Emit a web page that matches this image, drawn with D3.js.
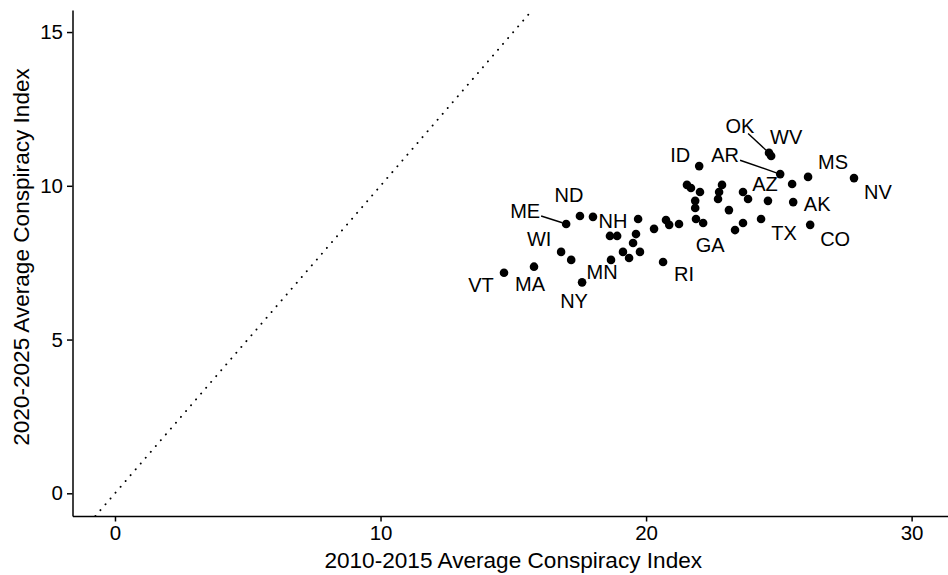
<!DOCTYPE html>
<html>
<head>
<meta charset="utf-8">
<script src="https://cdn.jsdelivr.net/npm/d3@7"></script>
<style>
  body { margin: 0; background: #fff; }
  text { font-family: "Liberation Sans", Arial, Helvetica, sans-serif; fill: #000; }
</style>
</head>
<body>
<svg id="chart" width="948" height="575"></svg>
<script>
// State abbreviations (blank = point drawn without a label)
const states = [
  "VT", "MA", "NY", "WI", "", "ME", "ND", "NH", "MN", "",
  "", "", "", "", "", "", "", "", "", "",
  "", "RI", "", "", "ID", "", "", "", "", "GA",
  "", "", "", "", "AZ", "", "", "", "", "TX",
  "OK", "WV", "AR", "", "MS", "NV", "AK", "CO"
];

// 2010-2015 average conspiracy index per state
const index2010 = [
  14.65, 15.78, 17.59, 16.80, 17.18, 16.99, 17.51, 18.00, 18.68, 18.64,
  18.91, 19.62, 19.51, 19.13, 19.36, 19.77, 19.70, 20.30, 20.75, 20.87,
  21.24, 20.64, 21.54, 21.69, 22.00, 22.03, 21.85, 21.85, 21.88, 22.15,
  22.86, 22.75, 22.71, 23.65, 23.84, 23.12, 24.59, 23.35, 23.65, 24.33,
  24.63, 24.71, 25.05, 25.50, 26.10, 27.83, 25.54, 26.18
];

// 2020-2025 average conspiracy index per state
const index2020 = [
  7.17, 7.37, 6.86, 7.85, 7.59, 8.76, 9.02, 8.99, 7.59, 8.37,
  8.37, 8.43, 8.14, 7.85, 7.65, 7.85, 8.92, 8.60, 8.89, 8.73,
  8.76, 7.52, 10.03, 9.93, 10.64, 9.80, 9.51, 9.28, 8.92, 8.79,
  10.03, 9.80, 9.57, 9.80, 9.57, 9.21, 9.51, 8.56, 8.79, 8.92,
  11.07, 10.97, 10.38, 10.06, 10.29, 10.25, 9.47, 8.73
];

const xTicks = [0, 10, 20, 30];
const yTicks = [0, 5, 10, 15];
const xTitle = "2010-2015 Average Conspiracy Index";
const yTitle = "2020-2025 Average Conspiracy Index";

// Label placement (pixel offsets from each point) and labels with leader lines
const labelNudge = {
  OK: [-29, -27], WV: [15, -19], ID: [-19, -11], AR: [-55, -19],
  MS: [25, -15], NV: [24, 14], AZ: [17, -15], AK: [24, 2],
  TX: [23, 14], CO: [25, 14], GA: [7, 22], RI: [21, 12],
  ND: [-11, -21], ME: [-41, -13], NH: [20, 4], WI: [-22, -13],
  MN: [-9, 12], VT: [-23, 12], MA: [-4, 17], NY: [-8, 18]
};
const leaderLabels = ["OK", "AR", "ME"];

const panel = { left: 72.5, right: 948, top: 10, bottom: 516 };

const x = d3.scaleLinear().domain([-1.60, 31.37]).range([panel.left, panel.right]);
const y = d3.scaleLinear().domain([-0.738, 15.717]).range([panel.bottom, panel.top]);

const svg = d3.select("#chart");

const data = states.map((s, i) => ({ state: s, x: index2010[i], y: index2020[i] }));

// Reference line y = x, clipped to the panel
const lo = Math.max(x.domain()[0], y.domain()[0]);
const hi = Math.min(x.domain()[1], y.domain()[1]);
svg.append("line")
  .attr("x1", x(lo)).attr("y1", y(lo))
  .attr("x2", x(hi)).attr("y2", y(hi))
  .attr("stroke", "#000")
  .attr("stroke-width", 1.9)
  .attr("stroke-linecap", "round")
  .attr("stroke-dasharray", "0.1,7.6");

// Axes
const xAxis = svg.append("g")
  .attr("transform", `translate(0,${panel.bottom})`)
  .call(d3.axisBottom(x).tickValues(xTicks).tickSize(5.5).tickSizeOuter(0).tickPadding(4));
const yAxis = svg.append("g")
  .attr("transform", `translate(${panel.left},0)`)
  .call(d3.axisLeft(y).tickValues(yTicks).tickSize(5.5).tickSizeOuter(0).tickPadding(4));

[xAxis, yAxis].forEach(g => {
  g.select(".domain").attr("stroke", "#000").attr("stroke-width", 1.5);
  g.selectAll(".tick line").attr("stroke", "#000").attr("stroke-width", 1.5);
  g.selectAll(".tick text")
    .attr("fill", "#000")
    .style("font-size", "20.5px")
    .style("font-family", '"Liberation Sans", Arial, sans-serif');
});

// Axis titles
svg.append("text")
  .attr("x", (panel.left + panel.right) / 2 + 3)
  .attr("y", 568)
  .attr("text-anchor", "middle")
  .style("font-size", "22.6px")
  .text(xTitle);

svg.append("text")
  .attr("transform", `translate(29,${(panel.top + panel.bottom) / 2 - 6}) rotate(-90)`)
  .attr("text-anchor", "middle")
  .style("font-size", "22.6px")
  .text(yTitle);

// Points
svg.append("g")
  .selectAll("circle")
  .data(data)
  .join("circle")
  .attr("cx", d => x(d.x))
  .attr("cy", d => y(d.y))
  .attr("r", 4.3)
  .attr("fill", "#000");

// Labels
const labeled = data.filter(d => d.state && labelNudge[d.state]);
const labelG = svg.append("g");
labeled.forEach(d => {
  const px = x(d.x), py = y(d.y);
  const [dx, dy] = labelNudge[d.state];
  const lx = px + dx, ly = py + dy;
  const t = labelG.append("text")
    .attr("x", lx)
    .attr("y", ly)
    .attr("dy", "0.36em")
    .attr("text-anchor", "middle")
    .style("font-size", "20px")
    .text(d.state);
  if (leaderLabels.includes(d.state)) {
    const bb = t.node().getBBox();
    const hw = bb.width / 2 + 1, hh = 7.5;
    const vx = px - lx, vy = py - ly;
    const tStart = Math.min(Math.abs(hw / vx), Math.abs(hh / vy));
    const len = Math.hypot(vx, vy);
    const tEnd = 1 - 4 / len;
    labelG.append("line")
      .attr("x1", lx + vx * tStart).attr("y1", ly + vy * tStart)
      .attr("x2", lx + vx * tEnd).attr("y2", ly + vy * tEnd)
      .attr("stroke", "#000")
      .attr("stroke-width", 1.4);
  }
});
</script>
</body>
</html>
